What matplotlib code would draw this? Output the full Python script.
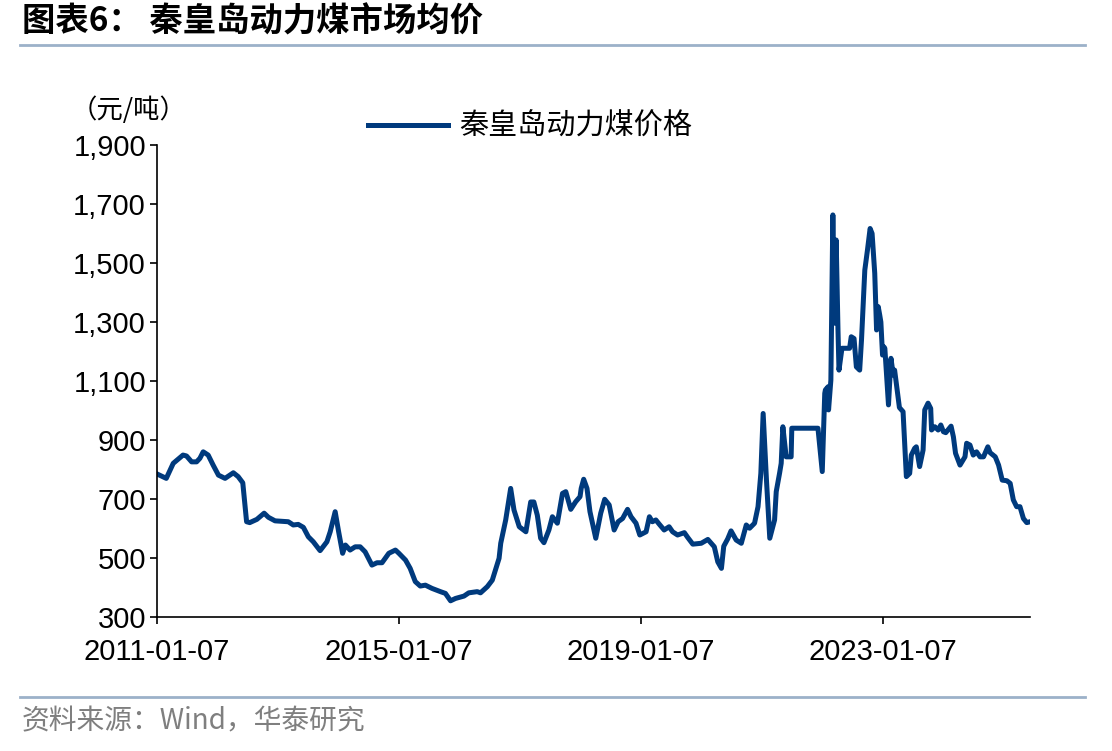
import matplotlib
matplotlib.use('Agg')
import matplotlib.pyplot as plt
import pandas as pd

plt.rcParams['font.family'] = ['Noto Sans CJK SC', 'DejaVu Sans']

# Data (元/吨)
dates = [
    '2011-01-07', '2011-03-04', '2011-04-15', '2011-06-13', '2011-07-04', '2011-08-04',
    '2011-09-03', '2011-09-23', '2011-10-13', '2011-11-12', '2011-12-12',
    '2012-01-13', '2012-02-22', '2012-04-12', '2012-05-11', '2012-06-08', '2012-07-01',
    '2012-07-20', '2012-09-01', '2012-10-15', '2012-11-10', '2012-12-20',
    '2013-03-10', '2013-04-09', '2013-05-09', '2013-06-09', '2013-07-09', '2013-08-08',
    '2013-09-18', '2013-10-29', '2013-11-18', '2013-12-18',
    '2014-01-08', '2014-02-01', '2014-02-18', '2014-03-08', '2014-03-18', '2014-04-18',
    '2014-05-18', '2014-06-17', '2014-07-07', '2014-07-28', '2014-08-28', '2014-09-27',
    '2014-11-07', '2014-12-17',
    '2015-01-07', '2015-02-16', '2015-03-16', '2015-04-16', '2015-05-16', '2015-06-16',
    '2015-07-26', '2015-09-15', '2015-10-15', '2015-11-15', '2015-12-15',
    '2016-02-04', '2016-03-04', '2016-04-24', '2016-05-14', '2016-06-24', '2016-07-24',
    '2016-09-03', '2016-09-13', '2016-10-13', '2016-11-12', '2016-12-02',
    '2017-01-03', '2017-02-12', '2017-03-13', '2017-04-01', '2017-04-22', '2017-05-12',
    '2017-06-01', '2017-07-01', '2017-07-22', '2017-08-21', '2017-09-21', '2017-10-11',
    '2017-11-10', '2017-12-10',
    '2018-01-05', '2018-01-12', '2018-01-27', '2018-02-16', '2018-03-06', '2018-04-10',
    '2018-05-10', '2018-06-03', '2018-06-30', '2018-07-30', '2018-08-23', '2018-09-19',
    '2018-10-19', '2018-11-09', '2018-12-09',
    '2019-01-01', '2019-02-08', '2019-02-28', '2019-03-18', '2019-04-08', '2019-04-28',
    '2019-05-28', '2019-06-27', '2019-07-18', '2019-08-17', '2019-09-27', '2019-10-17',
    '2019-11-17',
    '2020-01-07', '2020-02-16', '2020-03-26', '2020-04-16', '2020-05-08', '2020-05-22',
    '2020-06-15', '2020-07-05', '2020-08-05', '2020-09-05', '2020-10-05', '2020-10-25',
    '2020-11-24', '2020-12-15',
    '2021-01-01', '2021-01-15', '2021-02-04', '2021-02-24', '2021-03-25', '2021-04-04',
    '2021-04-24', '2021-05-04', '2021-05-14', '2021-06-03', '2021-07-03', '2021-07-07',
    '2021-12-12',
    '2022-01-07', '2022-01-22', '2022-01-26', '2022-02-12', '2022-02-14', '2022-02-28',
    '2022-03-12', '2022-03-21', '2022-04-01', '2022-04-12', '2022-04-18', '2022-05-06',
    '2022-06-21', '2022-07-01', '2022-07-18', '2022-08-01', '2022-08-21', '2022-09-01',
    '2022-09-21', '2022-10-07', '2022-10-23', '2022-11-04', '2022-11-20', '2022-12-01',
    '2022-12-11', '2022-12-20', '2022-12-27',
    '2023-01-06', '2023-01-14', '2023-01-20', '2023-02-11', '2023-02-26', '2023-03-12',
    '2023-03-20', '2023-04-18', '2023-05-10', '2023-05-30', '2023-06-19', '2023-06-29',
    '2023-07-19', '2023-07-29', '2023-08-18', '2023-09-08', '2023-09-18', '2023-10-08',
    '2023-10-24', '2023-10-29', '2023-11-18', '2023-12-08', '2023-12-24',
    '2024-01-09', '2024-01-23', '2024-02-24', '2024-03-09', '2024-03-22', '2024-04-18',
    '2024-05-18', '2024-05-28', '2024-06-17', '2024-07-07', '2024-07-27', '2024-08-17',
    '2024-09-07', '2024-10-03', '2024-10-17', '2024-11-17', '2024-12-07', '2024-12-29',
    '2025-01-26', '2025-02-15', '2025-03-06', '2025-03-26', '2025-04-15', '2025-05-06',
    '2025-05-26', '2025-06-15',
]
prices = [
    785, 770, 821, 849, 846, 826,
    826, 838, 860, 849, 815,
    781, 770, 789, 776, 755, 623,
    620, 631, 652, 638, 626,
    623, 612, 614, 604, 572, 555,
    525, 555, 589, 657,
    589, 516, 544, 533, 527, 538,
    538, 521, 499, 476, 484, 484,
    516, 527,
    516, 493, 465, 420, 405, 408,
    397, 386, 380, 355, 363,
    371, 382, 386, 382, 403, 425,
    499, 550, 629, 736, 663,
    606, 589, 690, 690, 645, 567,
    552, 595, 640, 618, 719, 725,
    665, 691,
    708, 736, 767, 736, 657, 567,
    652, 699, 680, 595, 623, 634,
    665, 640, 618,
    578, 589, 640, 623, 629, 615,
    595, 606, 589, 578, 586, 570,
    547,
    550, 563, 538, 487, 465, 540,
    565, 592, 561, 550, 612, 601,
    618, 674,
    787, 990, 764, 567, 629, 725,
    787, 821, 945, 843, 843, 940,
    940,
    793, 1058, 1070, 1081, 1002, 1103,
    1663, 1296, 1578, 1273, 1137, 1211,
    1211, 1250, 1244, 1148, 1137, 1239,
    1476, 1544, 1617, 1600, 1465, 1273,
    1352, 1324, 1300,
    1188, 1216, 1211, 1019, 1177, 1120,
    1137, 1010, 996, 776, 787, 849,
    872, 877, 810, 866, 1002, 1025,
    1007, 934, 945, 934, 951,
    928, 925, 947, 911, 855, 815,
    843, 889, 883, 849, 860, 843,
    843, 877, 857, 843, 815, 764,
    762, 753, 697, 674, 674, 634,
    620, 623,
]
tick_dates = ['2011-01-07', '2015-01-07', '2019-01-07', '2023-01-07']
y_ticks = [300, 500, 700, 900, 1100, 1300, 1500, 1700, 1900]

x = pd.to_datetime(dates)
line_color = '#003A7D'

fig = plt.figure(figsize=(11.12, 7.51), dpi=100)
ax = fig.add_axes([0.1412, 0.1784, 0.7851, 0.6285])

ax.plot(x, prices, color=line_color, linewidth=3.6, label='秦皇岛动力煤价格')

ax.set_ylim(300, 1900)
ax.set_xlim(x[0], x[-1])
ax.set_yticks(y_ticks)
ax.set_yticklabels([f'{v:,}' for v in y_ticks], family='Liberation Sans', fontsize=21)
ax.set_xticks(pd.to_datetime(tick_dates))
ax.set_xticklabels(tick_dates, family='Liberation Sans', fontsize=21)
ax.tick_params(axis='both', direction='out', length=5, width=1.2, colors='black')
ax.tick_params(axis='y', pad=3)
ax.tick_params(axis='x', pad=10)
ax.spines['top'].set_visible(False)
ax.spines['right'].set_visible(False)
ax.spines['left'].set_linewidth(1.2)
ax.spines['bottom'].set_linewidth(1.2)

# unit label
fig.text(71 / 1112, 1 - 110 / 751, '（元/吨）', fontsize=19, va='center', ha='left')

# legend above the plot
fig.legend(loc='center', bbox_to_anchor=(530 / 1112, 1 - 127 / 751), frameon=False,
           fontsize=21, handlelength=2.75, handletextpad=0.4)

# title and rules
fig.text(22 / 1112, 1 - 22 / 751, '图表6： 秦皇岛动力煤市场均价', fontsize=24,
         fontweight='bold', va='center', ha='left')
fig.add_artist(plt.Line2D([20 / 1112, 1085 / 1112], [1 - 45 / 751, 1 - 45 / 751],
                          color='#9CB1C9', linewidth=2))
fig.add_artist(plt.Line2D([20 / 1112, 1085 / 1112], [1 - 697 / 751, 1 - 697 / 751],
                          color='#9CB1C9', linewidth=2))
fig.text(22 / 1112, 1 - 721 / 751, '资料来源：Wind，华泰研究', fontsize=20,
         color='#7F7F7F', va='center', ha='left')

fig.savefig('out.png', dpi=100)
